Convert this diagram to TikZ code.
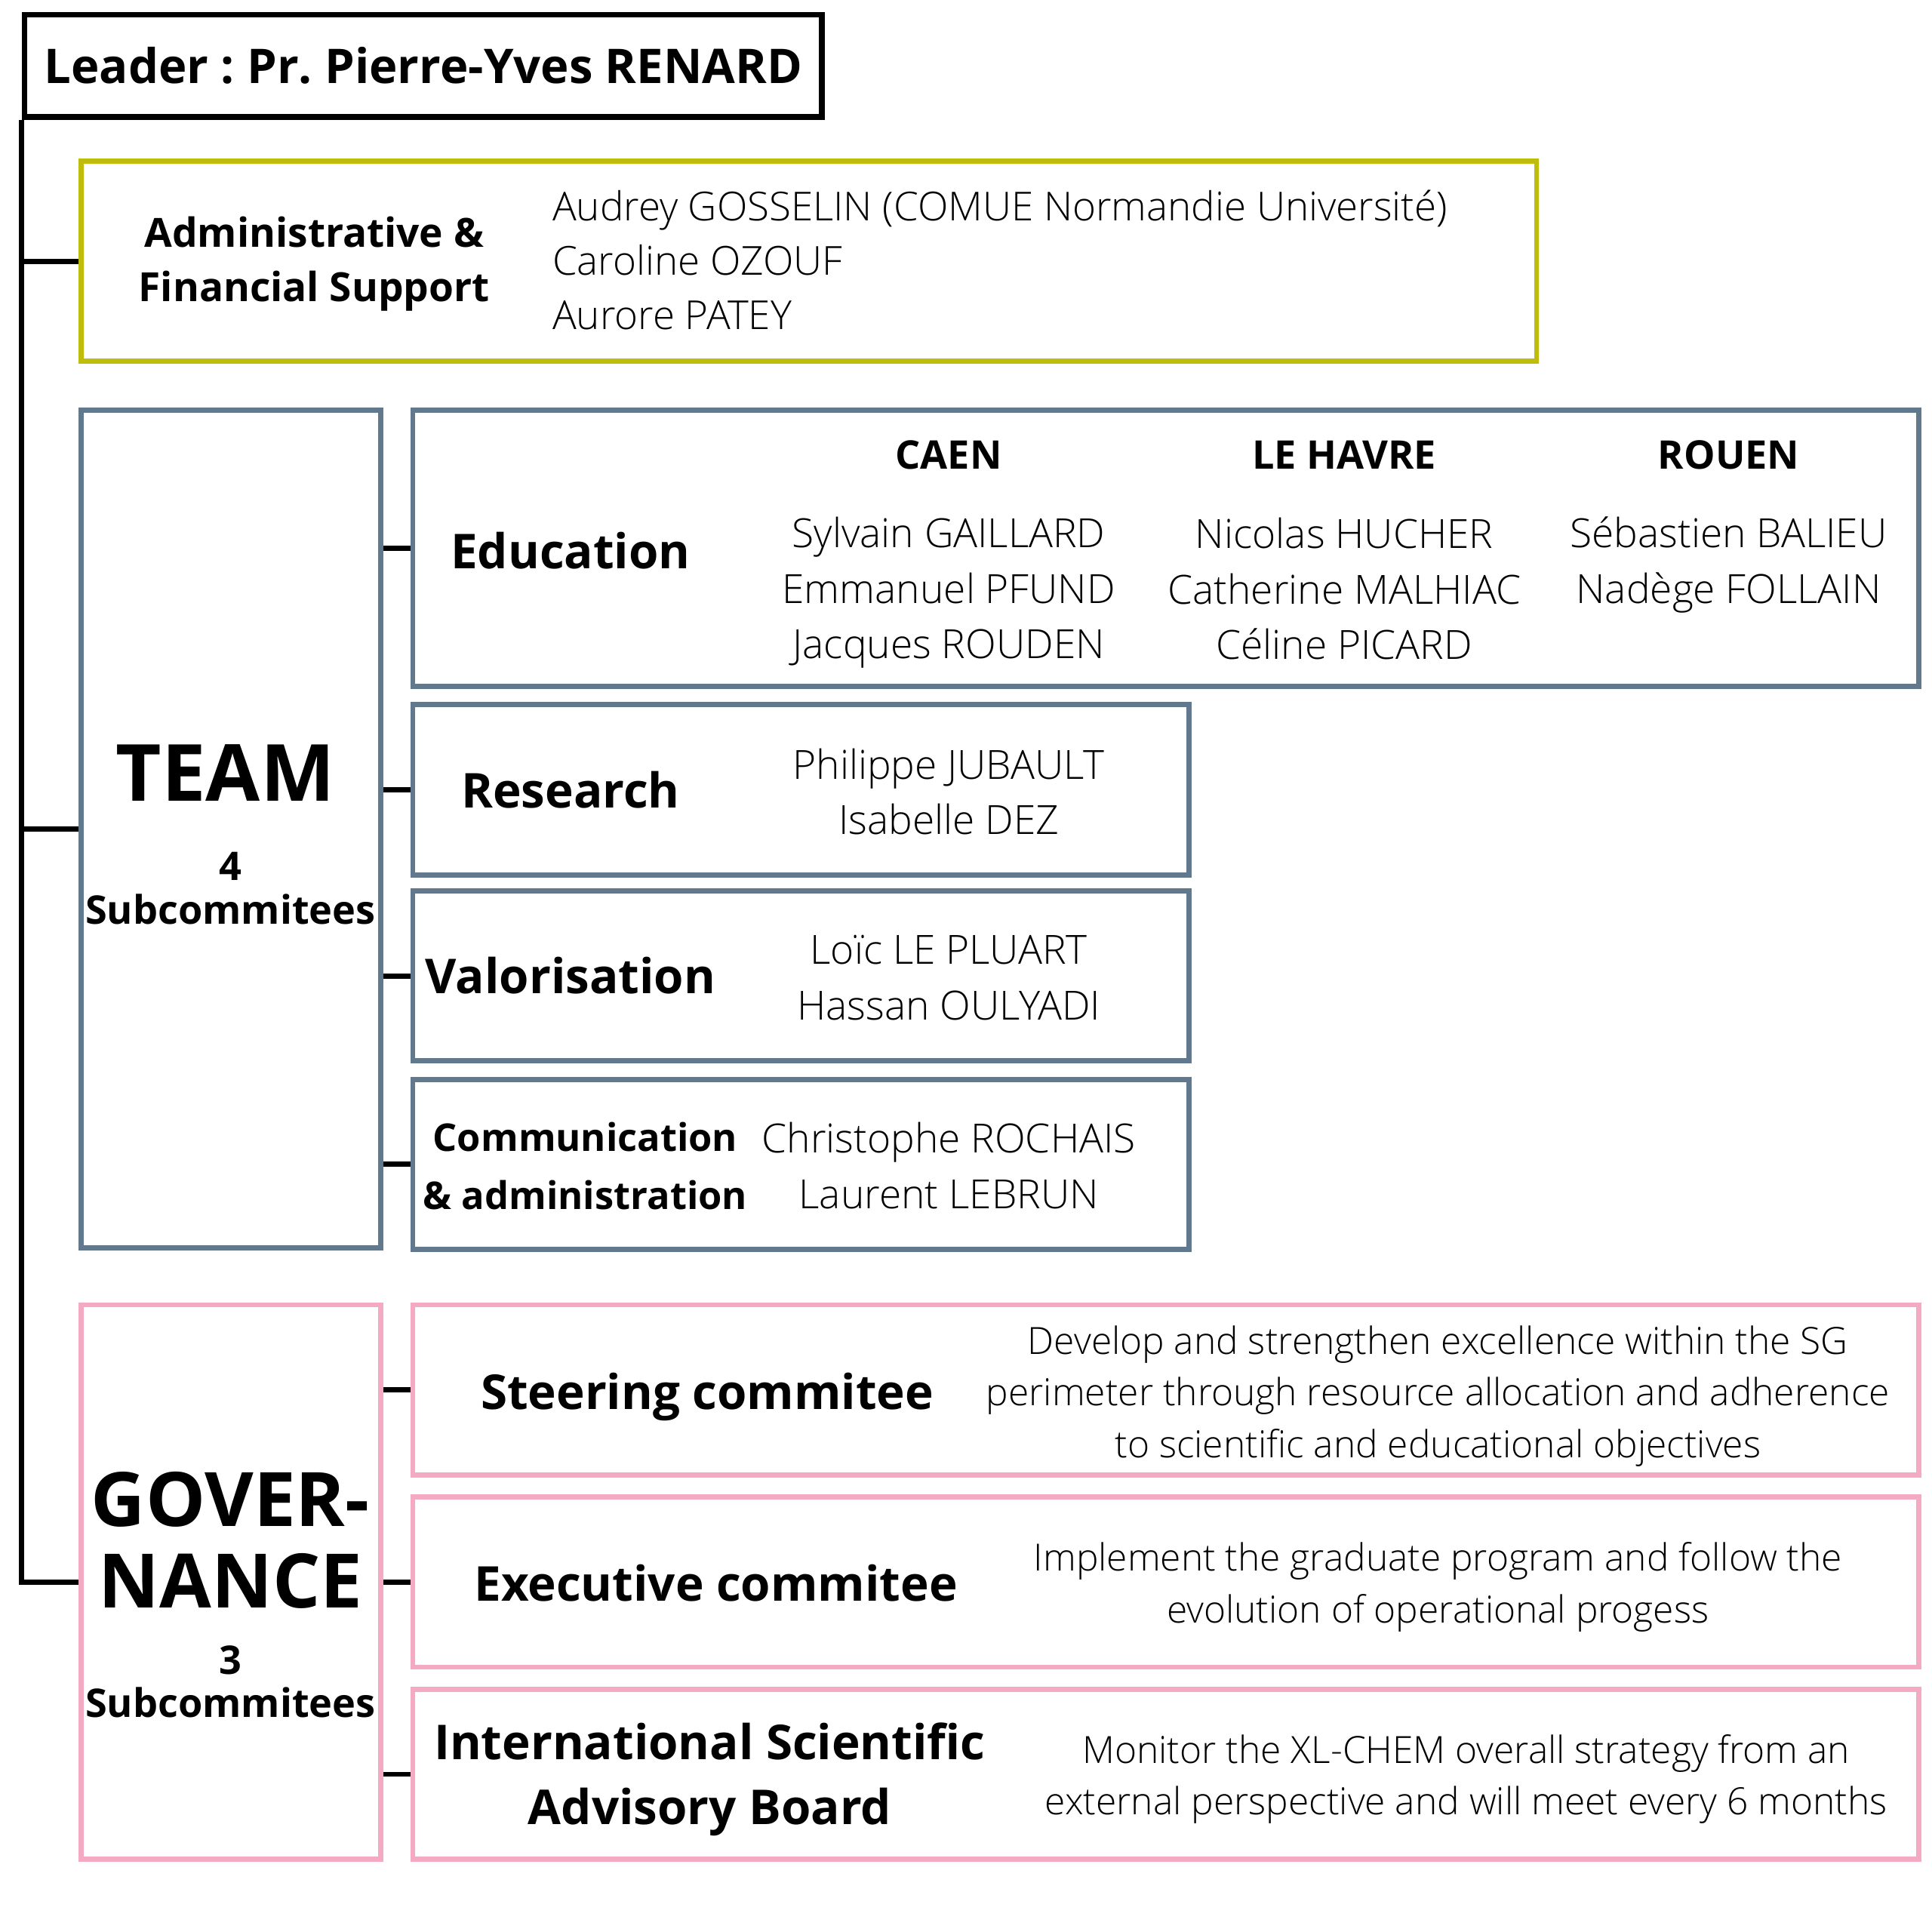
\documentclass[tikz,border=0pt]{standalone}
\usepackage{fontspec}
\setmainfont{Open Sans}
\newfontfamily\lt{Open Sans Light}
\frenchspacing
\definecolor{olive}{RGB}{192,188,12}
\definecolor{slate}{RGB}{98,120,140}
\definecolor{pinkb}{RGB}{244,170,195}
\tikzset{
  frame/.style={draw, line width=2.1pt, inner sep=0pt, fill=white},
  conn/.style={draw=black, line width=2.1pt},
  lbl/.style={font=\bfseries\fontsize{19.5}{26}\selectfont, align=center, inner sep=0pt},
  lblsm/.style={font=\bfseries\fontsize{16}{22}\selectfont, align=center, inner sep=0pt},
  names/.style={font=\lt\fontsize{16.3}{22.5}\selectfont, align=center, inner sep=0pt},
  desc/.style={font=\lt\fontsize{15.2}{21}\selectfont, align=center, inner sep=0pt},
  big/.style={font=\bfseries\fontsize{32}{33}\selectfont, align=center, inner sep=0pt},
}
\begin{document}
\frenchspacing
\begin{tikzpicture}[x=0.5pt,y=-0.5pt]
\useasboundingbox[fill=white] (0,0) rectangle (1568,1568);
% boxes
\node[frame, draw=black, line width=2.3pt, minimum width=323.5pt, minimum height=41.5pt] (leader) at (343.5,53.5) {};
\node[frame, draw=olive, minimum width=590.5pt, minimum height=81pt] (admin) at (656.5,212) {};
\node[frame, draw=slate, minimum width=121.5pt, minimum height=340pt] (team) at (187.5,673) {};
\node[frame, draw=slate, minimum width=611pt, minimum height=112pt] (edu) at (946,445) {};
\node[frame, draw=slate, minimum width=315pt, minimum height=69pt] (res) at (650,641) {};
\node[frame, draw=slate, minimum width=315pt, minimum height=69pt] (val) at (650,792) {};
\node[frame, draw=slate, minimum width=315pt, minimum height=69pt] (com) at (650,945) {};
\node[frame, draw=pinkb, minimum width=121.5pt, minimum height=225pt] (gov) at (187.5,1284) {};
\node[frame, draw=pinkb, minimum width=611pt, minimum height=69pt] (steer) at (946,1128) {};
\node[frame, draw=pinkb, minimum width=611pt, minimum height=69pt] (exec) at (946,1284) {};
\node[frame, draw=pinkb, minimum width=611pt, minimum height=69pt] (isab) at (946,1440) {};
% connectors
\draw[conn] (leader.south west) |- (gov.west);
\draw[conn] (leader.south west |- admin.west) -- (admin.west);
\draw[conn] (leader.south west |- team.west) -- (team.west);
\draw[conn] (team.east |- edu.west) -- (edu.west);
\draw[conn] (team.east |- res.west) -- (res.west);
\draw[conn] (team.east |- val.west) -- (val.west);
\draw[conn] (team.east |- com.west) -- (com.west);
\draw[conn] (gov.east |- steer.west) -- (steer.west);
\draw[conn] (gov.east |- exec.west) -- (exec.west);
\draw[conn] (gov.east |- isab.west) -- (isab.west);
% texts
\node[lbl, font=\bfseries\fontsize{19.4}{26}\selectfont] (leadert) at (343.5,53) {Leader : Pr. Pierre-Yves RENARD};
\node[font=\bfseries\fontsize{16.3}{22}\selectfont, align=center, inner sep=0pt] (admint) at (255,214) {Administrative \&\\Financial Support};
\node[font=\lt\fontsize{16.2}{22}\selectfont, align=left, inner sep=0pt, anchor=west] (adminn) at (448,211) {Audrey GOSSELIN (COMUE Normandie Université)\\Caroline OZOUF\\Aurore PATEY};
\node[big] (teamt) at (183,627) {TEAM};
\node[lblsm, font=\bfseries\fontsize{16}{17.5}\selectfont] (teams) at (187,721) {4\\Subcommitees};
\node[lbl] (edut) at (463,447) {Education};
\node[lblsm] (caen) at (770,369) {CAEN};
\node[lblsm] (havre) at (1091,369) {LE HAVRE};
\node[lblsm] (rouen) at (1403,369) {ROUEN};
\node[names] (caenn) at (770,481) {Sylvain GAILLARD\\Emmanuel PFUND\\Jacques ROUDEN};
\node[names] (havren) at (1091,478) {Nicolas HUCHER\\Catherine MALHIAC\\Céline PICARD};
\node[names] (rouenn) at (1403,458.5) {Sébastien BALIEU\\Nadège FOLLAIN};
\node[lbl] (rest) at (463,641) {Research};
\node[names] (resn) at (770,642.5) {Philippe JUBAULT\\Isabelle DEZ};
\node[lbl] (valt) at (463,792) {Valorisation};
\node[names] (valn) at (770,793.5) {Loïc LE PLUART\\Hassan OULYADI};
\node[font=\bfseries\fontsize{15.5}{23.5}\selectfont, align=center, inner sep=0pt] (comt) at (475,946.5) {Communication\\\& administration};
\node[names] (comn) at (770,946) {Christophe ROCHAIS\\Laurent LEBRUN};
\node[big, font=\bfseries\fontsize{30.5}{33}\selectfont] (govt) at (187,1250) {GOVER-\\NANCE};
\node[lblsm, font=\bfseries\fontsize{16}{17.5}\selectfont] (govs) at (187,1365) {3\\Subcommitees};
\node[lbl] (steert) at (574,1134) {Steering commitee};
\node[desc] (steerd) at (1167,1133) {Develop and strengthen excellence within the SG\\perimeter through resource allocation and adherence\\to scientific and educational objectives};
\node[lbl] (exect) at (581,1285) {Executive commitee};
\node[desc] (execd) at (1167,1288) {Implement the graduate program and follow the\\evolution of operational progess};
\node[lbl, font=\bfseries\fontsize{19.5}{26.5}\selectfont] (isabt) at (576,1444) {International Scientific\\Advisory Board};
\node[desc] (isabd) at (1190,1444) {Monitor the XL-CHEM overall strategy from an\\external perspective and will meet every 6 months};
\end{tikzpicture}
\end{document}
